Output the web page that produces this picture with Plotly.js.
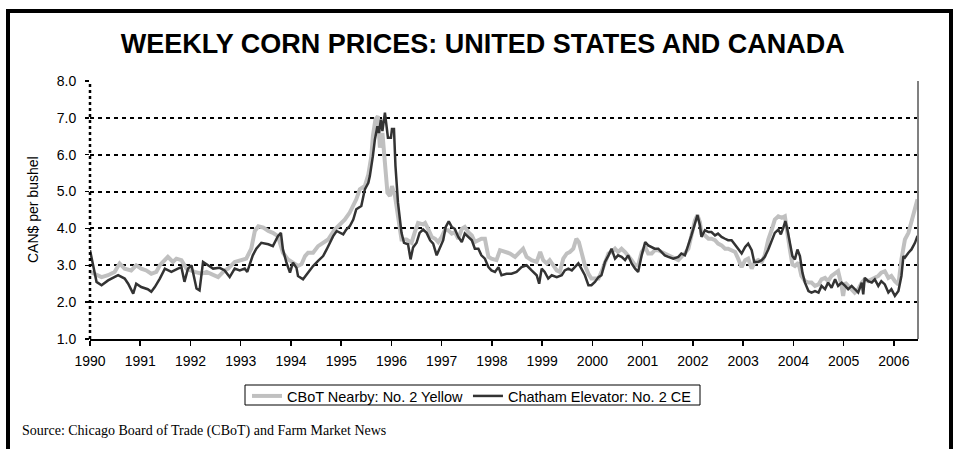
<!DOCTYPE html>
<html>
<head>
<meta charset="utf-8">
<script src="https://cdn.plot.ly/plotly-3.0.1.min.js"></script>
<style>html,body{margin:0;padding:0;background:#fff;}#chart{width:956px;height:449px;}</style>
</head>
<body>
<div id="chart"></div>
<script>
// Tick labels
var yearTicks = [1990,1991,1992,1993,1994,1995,1996,1997,1998,1999,2000,2001,2002,2003,2004,2005,2006];
var yearLabels = ["1990","1991","1992","1993","1994","1995","1996","1997","1998","1999","2000","2001","2002","2003","2004","2005","2006"];
var priceTicks = [1,2,3,4,5,6,7,8];
var priceLabels = ["1.0","2.0","3.0","4.0","5.0","6.0","7.0","8.0"];

// CBoT Nearby: No. 2 Yellow (CAN$ per bushel)
var cbotYears = [1990.00,1990.13,1990.23,1990.36,1990.49,1990.59,1990.69,1990.82,1990.92,1991.02,1991.12,1991.22,1991.32,1991.39,1991.49,1991.55,1991.65,1991.72,1991.82,1991.92,1992.08,1992.22,1992.32,1992.45,1992.55,1992.68,1992.75,1992.88,1993.01,1993.11,1993.21,1993.28,1993.35,1993.45,1993.55,1993.64,1993.74,1993.84,1993.94,1994.04,1994.14,1994.21,1994.28,1994.34,1994.44,1994.54,1994.64,1994.74,1994.87,1994.97,1995.07,1995.17,1995.24,1995.30,1995.37,1995.47,1995.54,1995.60,1995.63,1995.68,1995.73,1995.77,1995.82,1995.87,1995.92,1995.97,1996.01,1996.07,1996.13,1996.20,1996.30,1996.40,1996.46,1996.53,1996.63,1996.67,1996.73,1996.80,1996.87,1996.93,1997.00,1997.06,1997.13,1997.20,1997.26,1997.33,1997.40,1997.46,1997.53,1997.60,1997.66,1997.73,1997.79,1997.86,1997.93,1997.99,1998.09,1998.16,1998.26,1998.36,1998.46,1998.56,1998.62,1998.69,1998.79,1998.89,1998.96,1999.02,1999.09,1999.15,1999.22,1999.29,1999.35,1999.42,1999.49,1999.55,1999.62,1999.68,1999.73,1999.78,1999.85,1999.92,1999.98,2000.05,2000.12,2000.18,2000.25,2000.32,2000.38,2000.45,2000.51,2000.58,2000.65,2000.71,2000.78,2000.85,2000.91,2000.98,2001.05,2001.11,2001.18,2001.24,2001.31,2001.38,2001.44,2001.51,2001.61,2001.71,2001.77,2001.84,2001.91,2001.97,2002.04,2002.09,2002.14,2002.17,2002.24,2002.31,2002.37,2002.44,2002.50,2002.57,2002.64,2002.70,2002.77,2002.84,2002.90,2002.97,2003.04,2003.10,2003.17,2003.23,2003.30,2003.37,2003.43,2003.50,2003.57,2003.63,2003.70,2003.77,2003.83,2003.88,2003.93,2003.98,2004.03,2004.10,2004.16,2004.23,2004.30,2004.36,2004.43,2004.50,2004.56,2004.63,2004.69,2004.76,2004.83,2004.89,2004.96,2004.99,2005.03,2005.09,2005.16,2005.22,2005.29,2005.36,2005.42,2005.49,2005.56,2005.62,2005.69,2005.75,2005.82,2005.89,2005.95,2006.02,2006.09,2006.15,2006.22,2006.29,2006.35,2006.42,2006.47];
var cbotPrices = [2.82,2.73,2.68,2.73,2.82,3.05,2.91,2.86,3.00,2.91,2.86,2.77,2.82,3.00,3.14,3.23,3.09,3.18,3.14,2.91,2.82,2.77,2.82,2.73,2.68,2.86,2.91,3.09,3.14,3.18,3.45,3.93,4.06,4.02,3.93,3.88,3.79,3.34,3.16,3.07,2.98,3.03,3.25,3.34,3.34,3.52,3.61,3.70,3.97,4.11,4.24,4.43,4.61,4.79,5.06,5.15,5.46,5.96,6.50,6.95,7.05,6.19,6.59,5.69,4.97,4.88,5.15,4.88,4.24,3.70,3.70,3.61,3.88,4.15,4.11,4.15,3.99,3.77,3.72,3.63,3.77,3.95,3.95,3.86,3.90,3.72,3.99,4.04,3.90,3.81,3.63,3.68,3.72,3.72,3.23,3.18,3.14,3.41,3.36,3.32,3.23,3.36,3.45,3.23,3.14,3.09,3.36,3.14,3.05,3.14,3.00,2.86,2.82,3.18,3.32,3.36,3.45,3.72,3.63,3.36,3.00,2.77,2.64,2.64,2.64,2.82,3.09,3.32,3.36,3.45,3.36,3.45,3.36,3.27,3.14,3.00,3.00,3.36,3.50,3.32,3.32,3.41,3.41,3.36,3.32,3.27,3.20,3.14,3.23,3.32,3.45,3.77,4.22,4.36,4.17,3.86,3.81,3.72,3.72,3.68,3.59,3.54,3.45,3.45,3.41,3.36,3.18,2.95,3.14,3.18,2.91,3.09,3.14,3.09,3.27,3.70,3.97,4.24,4.33,4.29,4.33,3.79,3.43,3.02,2.98,3.07,2.71,2.57,2.53,2.53,2.44,2.48,2.62,2.66,2.57,2.71,2.80,2.84,2.44,2.17,2.53,2.44,2.35,2.26,2.35,2.53,2.62,2.57,2.62,2.66,2.71,2.80,2.84,2.66,2.71,2.57,2.48,3.16,3.70,3.88,4.20,4.51,4.79];

// Chatham Elevator: No. 2 CE (CAN$ per bushel)
var chathamYears = [1990.00,1990.13,1990.23,1990.36,1990.56,1990.69,1990.76,1990.86,1990.92,1991.02,1991.15,1991.22,1991.29,1991.39,1991.49,1991.62,1991.75,1991.82,1991.88,1991.95,1992.02,1992.12,1992.18,1992.25,1992.35,1992.45,1992.58,1992.68,1992.78,1992.88,1992.98,1993.08,1993.13,1993.18,1993.24,1993.31,1993.41,1993.55,1993.64,1993.74,1993.80,1993.84,1993.91,1993.98,1994.04,1994.11,1994.14,1994.24,1994.34,1994.44,1994.54,1994.64,1994.71,1994.77,1994.84,1994.91,1994.97,1995.04,1995.10,1995.17,1995.24,1995.30,1995.40,1995.47,1995.54,1995.57,1995.63,1995.67,1995.72,1995.75,1995.79,1995.82,1995.87,1995.90,1995.93,1995.99,1996.01,1996.05,1996.08,1996.13,1996.20,1996.25,1996.33,1996.38,1996.43,1996.50,1996.56,1996.63,1996.70,1996.77,1996.83,1996.90,1996.97,1997.03,1997.08,1997.14,1997.20,1997.26,1997.33,1997.40,1997.46,1997.53,1997.60,1997.66,1997.73,1997.79,1997.86,1997.93,1997.99,1998.06,1998.13,1998.19,1998.29,1998.39,1998.49,1998.59,1998.69,1998.79,1998.89,1998.94,1998.99,1999.05,1999.12,1999.19,1999.29,1999.39,1999.45,1999.52,1999.59,1999.65,1999.72,1999.78,1999.85,1999.92,1999.98,2000.05,2000.12,2000.18,2000.25,2000.32,2000.38,2000.45,2000.51,2000.58,2000.65,2000.71,2000.78,2000.85,2000.91,2000.98,2001.05,2001.11,2001.18,2001.24,2001.31,2001.38,2001.44,2001.51,2001.61,2001.71,2001.77,2001.84,2001.91,2001.97,2002.04,2002.09,2002.14,2002.17,2002.24,2002.31,2002.37,2002.44,2002.50,2002.57,2002.64,2002.70,2002.77,2002.84,2002.90,2002.97,2003.04,2003.10,2003.17,2003.22,2003.30,2003.37,2003.43,2003.50,2003.57,2003.63,2003.70,2003.75,2003.80,2003.84,2003.88,2003.93,2003.98,2004.03,2004.08,2004.13,2004.18,2004.23,2004.30,2004.36,2004.43,2004.50,2004.56,2004.63,2004.69,2004.76,2004.83,2004.89,2004.96,2005.03,2005.09,2005.16,2005.22,2005.29,2005.36,2005.39,2005.42,2005.49,2005.56,2005.62,2005.69,2005.75,2005.82,2005.89,2005.95,2006.02,2006.09,2006.15,2006.19,2006.22,2006.29,2006.35,2006.42,2006.47];
var chathamPrices = [3.41,2.55,2.46,2.59,2.73,2.64,2.50,2.23,2.50,2.41,2.35,2.28,2.41,2.64,2.91,2.82,2.91,2.95,2.55,2.91,3.00,2.37,2.32,3.09,3.00,2.91,2.93,2.86,2.68,2.91,2.86,2.91,2.82,3.00,3.27,3.45,3.61,3.57,3.52,3.79,3.88,3.43,3.07,2.80,3.07,2.93,2.71,2.62,2.80,2.98,3.12,3.25,3.43,3.61,3.79,3.93,3.88,3.84,3.97,4.06,4.24,4.52,4.61,5.06,5.24,5.42,5.96,6.41,6.77,6.59,6.95,6.64,7.14,6.86,6.46,6.46,6.70,6.70,5.69,4.70,3.88,3.61,3.57,3.16,3.48,3.61,3.88,3.97,3.88,3.68,3.59,3.27,3.50,3.68,4.04,4.19,4.04,3.99,3.77,3.63,3.86,3.77,3.68,3.45,3.45,3.27,3.18,2.95,2.86,2.82,2.95,2.73,2.77,2.77,2.82,2.95,3.00,2.86,2.73,2.50,2.91,2.82,2.64,2.73,2.68,2.73,2.86,2.91,2.86,2.95,3.05,2.91,2.73,2.46,2.46,2.55,2.68,2.73,3.09,3.27,3.45,3.18,3.27,3.23,3.14,3.27,3.05,2.91,2.82,3.27,3.63,3.54,3.50,3.45,3.45,3.36,3.27,3.23,3.18,3.23,3.32,3.27,3.54,3.81,4.13,4.36,4.08,3.77,3.95,3.90,3.90,3.81,3.86,3.77,3.72,3.68,3.68,3.54,3.45,3.32,3.50,3.59,3.41,3.09,3.09,3.14,3.23,3.43,3.70,3.88,3.97,3.84,4.02,4.20,3.97,3.61,3.25,3.16,3.43,3.25,2.80,2.53,2.30,2.26,2.30,2.26,2.44,2.35,2.53,2.39,2.62,2.44,2.53,2.44,2.35,2.44,2.35,2.26,2.53,2.21,2.66,2.57,2.53,2.62,2.44,2.57,2.48,2.26,2.35,2.17,2.30,2.71,3.25,3.21,3.34,3.43,3.61,3.80];

var seriesNames = ["CBoT Nearby: No. 2 Yellow", "Chatham Elevator: No. 2 CE"];

var SANS = "Liberation Sans, Arial, sans-serif";
var SERIF = "Liberation Serif, Times New Roman, serif";

var traces = [
  {x: cbotYears, y: cbotPrices, type: "scatter", mode: "lines", name: seriesNames[0],
   line: {color: "#c0c0c0", width: 4}, hoverinfo: "skip"},
  {x: chathamYears, y: chathamPrices, type: "scatter", mode: "lines", name: seriesNames[1],
   line: {color: "#333333", width: 2.5}, hoverinfo: "skip"}
];

// pixel helpers for paper coords (plot area: x 90..918, y 81..339)
function px(x){ return (x - 90) / 828; }
function py(y){ return (339 - y) / 258; }

var layout = {
  width: 956, height: 449,
  margin: {l: 90, r: 38, t: 81, b: 110},
  paper_bgcolor: "#ffffff", plot_bgcolor: "#ffffff",
  showlegend: true,
  title: {text: "<b>WEEKLY CORN PRICES: UNITED STATES AND CANADA</b>",
          font: {family: SANS, size: 27, color: "#000"},
          xref: "container", x: 0.505, xanchor: "center",
          yref: "container", y: 1 - 44/449, yanchor: "middle"},
  xaxis: {range: [1990, 2006.48], tickmode: "array", tickvals: yearTicks, ticktext: yearLabels,
          ticks: "outside", ticklen: 5, tickwidth: 1.5, tickcolor: "#000",
          showline: true, linecolor: "#000", linewidth: 2, showgrid: false, zeroline: false,
          tickfont: {family: SANS, size: 14, color: "#000"}, ticklabelstandoff: 3, fixedrange: true},
  yaxis: {range: [1, 8], tickmode: "array", tickvals: priceTicks, ticktext: priceLabels,
          ticks: "outside", ticklen: 4, tickwidth: 1.5, tickcolor: "#000",
          showline: false, showgrid: true, gridcolor: "#000", gridwidth: 2, griddash: "4px,4px",
          zeroline: false, tickfont: {family: SANS, size: 14, color: "#000"}, ticklabelstandoff: 6, fixedrange: true},
  legend: {orientation: "h", x: px(472), xanchor: "center", y: py(380), yanchor: "top",
           borderwidth: 0, bgcolor: "rgba(0,0,0,0)",
           font: {family: SANS, size: 14.5, color: "#000"}, itemwidth: 30},
  shapes: [
    {type: "line", xref: "paper", yref: "paper", x0: 0, x1: 0, y0: 0, y1: 1,
     line: {color: "#000", width: 2.5, dash: "dot"}},
    {type: "line", xref: "paper", yref: "paper", x0: 1, x1: 1, y0: 0, y1: 1,
     line: {color: "#808080", width: 2}},
    {type: "rect", xref: "paper", yref: "paper", x0: px(245), x1: px(700), y0: py(405), y1: py(385),
     line: {color: "#000", width: 1}, fillcolor: "rgba(0,0,0,0)"},
    {type: "rect", xref: "paper", yref: "paper", x0: px(8), x1: px(951), y0: py(470), y1: py(11),
     line: {color: "#000", width: 4}, fillcolor: "rgba(0,0,0,0)"}
  ],
  annotations: [
    {text: "CAN$ per bushel", xref: "paper", yref: "paper", x: px(33), y: 0.5,
     xanchor: "center", yanchor: "middle", textangle: -90, showarrow: false,
     font: {family: SANS, size: 14, color: "#000"}},
    {text: "Source: Chicago Board of Trade (CBoT) and Farm Market News", xref: "paper", yref: "paper",
     x: px(20), y: py(431), xanchor: "left", yanchor: "middle", showarrow: false,
     font: {family: SERIF, size: 14, color: "#000"}}
  ]
};

Plotly.newPlot("chart", traces, layout, {displayModeBar: false, staticPlot: true});
</script>
</body>
</html>
